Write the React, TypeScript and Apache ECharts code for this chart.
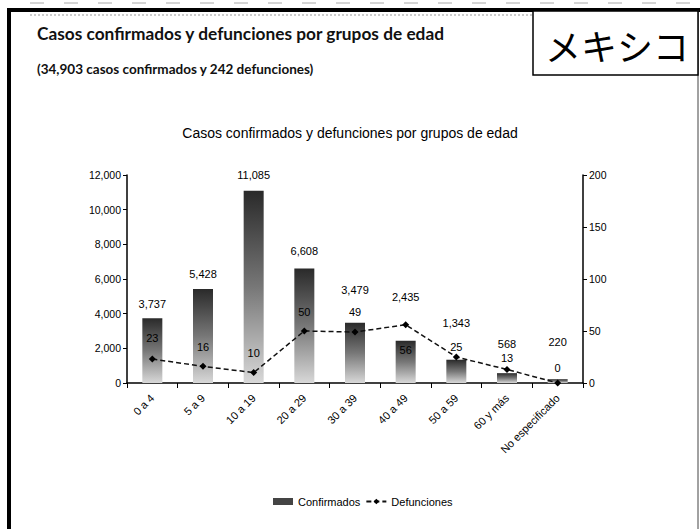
import React, { useEffect, useRef } from "react";
import * as echarts from "echarts";

const categories = ["0 a 4", "5 a 9", "10 a 19", "20 a 29", "30 a 39", "40 a 49", "50 a 59", "60 y más", "No especificado"];
const confirmados = [3737, 5428, 11085, 6608, 3479, 2435, 1343, 568, 220];
const defunciones = [23, 16, 10, 50, 49, 56, 25, 13, 0];

const headerTitle = "Casos confirmados y defunciones por grupos de edad";
const headerSubtitle = "(34,903 casos confirmados y 242 defunciones)";
const countryLabel = "メキシコ";
const chartTitle = "Casos confirmados y defunciones por grupos de edad";
const seriesNames = ["Confirmados", "Defunciones"];

// label placement tweaks (layout, not data)
const barLabelGap = [9, 9, 10, 12, 27, 38, 31, 24, 32];
const lineLabelGap = [12, 10, 11, 10, 11, 16, 1, 2, 6];
const lineLabelPos = ["top", "top", "top", "top", "top", "bottom", "top", "top", "top"];

const FONT = "'Liberation Sans Narrow','Liberation Sans',Arial,sans-serif";
const HFONT = "Lato,'Open Sans',sans-serif";

export default function App() {
  const ref = useRef<HTMLDivElement>(null);
  useEffect(() => {
    document.body.style.margin = "0";
    if (!ref.current) return;
    const chart = echarts.init(ref.current, null, { renderer: "svg" });
    const fmt = (v: number) => v.toLocaleString("en-US");
    const option: any = {
      animation: false,
      backgroundColor: "#fff",
      title: {
        text: chartTitle,
        left: "center",
        top: 121,
        textStyle: { fontFamily: FONT, fontSize: 14, fontWeight: "normal", color: "#000" },
      },
      grid: { left: 127, right: 117, top: 175, bottom: 146 },
      legend: {
        top: 491,
        left: 268,
        itemGap: 5,
        itemWidth: 20,
        itemHeight: 7,
        textStyle: { fontFamily: FONT, fontSize: 11, color: "#000" },
        data: [
          { name: seriesNames[0], icon: "rect", itemStyle: { color: "#444" } },
          { name: seriesNames[1] },
        ],
      },
      xAxis: {
        type: "category",
        data: categories,
        boundaryGap: true,
        axisLine: { lineStyle: { color: "#000", width: 1.5 } },
        axisTick: { show: true, alignWithLabel: false, length: 5, lineStyle: { color: "#000" } },
        axisLabel: { rotate: 45, fontFamily: FONT, fontSize: 11, color: "#000", margin: 13, interval: 0 },
      },
      yAxis: [
        {
          type: "value",
          min: 0,
          max: 12000,
          interval: 2000,
          splitLine: { show: false },
          axisLine: { show: true, lineStyle: { color: "#000", width: 1.5 } },
          axisTick: { show: true, length: 4, lineStyle: { color: "#000" } },
          axisLabel: { fontFamily: FONT, fontSize: 10.5, color: "#000", formatter: (v: number) => fmt(v), margin: 6 },
        },
        {
          type: "value",
          min: 0,
          max: 200,
          interval: 50,
          splitLine: { show: false },
          axisLine: { show: true, lineStyle: { color: "#000", width: 1.5 } },
          axisTick: { show: true, length: 4, inside: false, lineStyle: { color: "#000" } },
          axisLabel: { fontFamily: FONT, fontSize: 10.5, color: "#000", margin: 6 },
        },
      ],
      series: [
        {
          name: seriesNames[0],
          type: "bar",
          barWidth: 20,
          yAxisIndex: 0,
          itemStyle: {
            color: new echarts.graphic.LinearGradient(0, 0, 0, 1, [
              { offset: 0, color: "#2a2a2a" },
              { offset: 0.5, color: "#777" },
              { offset: 1, color: "#d8d8d8" },
            ]),
          },
          label: {
            show: true,
            position: "top",
            fontFamily: FONT,
            fontSize: 11,
            color: "#000",
            formatter: (p: any) => fmt(p.value),
          },
          data: confirmados.map((v, i) => ({ value: v, label: { distance: barLabelGap[i] } })),
          z: 2,
        },
        {
          name: seriesNames[1],
          type: "line",
          yAxisIndex: 1,
          symbol: "diamond",
          symbolSize: 7,
          itemStyle: { color: "#000" },
          lineStyle: { color: "#111", width: 1.5, type: [5, 3] },
          label: { show: true, fontFamily: FONT, fontSize: 11, color: "#000" },
          data: defunciones.map((v, i) => ({
            value: v,
            label: { position: lineLabelPos[i], distance: lineLabelGap[i] },
          })),
          z: 3,
        },
      ],
      graphic: [
        { type: "line", shape: { x1: 30, y1: 3, x2: 700, y2: 3 }, style: { stroke: "#aaa", lineWidth: 1, lineDash: [14, 20] } },
        { type: "line", shape: { x1: 7, y1: 10, x2: 700, y2: 10 }, style: { stroke: "#000", lineWidth: 4 } },
        { type: "line", shape: { x1: 9, y1: 8, x2: 9, y2: 529 }, style: { stroke: "#000", lineWidth: 4 } },
        { type: "line", shape: { x1: 698, y1: 10, x2: 698, y2: 529 }, style: { stroke: "#444", lineWidth: 1 } },
        { type: "line", shape: { x1: 30, y1: 15, x2: 533, y2: 15 }, style: { stroke: "#999", lineWidth: 1, lineDash: [2, 2] } },
        { type: "rect", shape: { x: 533, y: 11, width: 165, height: 64 }, style: { fill: "#fff", stroke: "#000", lineWidth: 1.5 } },
        {
          type: "text",
          x: 617,
          y: 45,
          style: { text: countryLabel, fontFamily: "'Noto Sans CJK JP',sans-serif", fontSize: 36, fill: "#000", align: "center", verticalAlign: "middle" },
        },
        {
          type: "text",
          x: 37,
          y: 33,
          style: { text: headerTitle, fontFamily: HFONT, fontSize: 17.3, fontWeight: "bold", fill: "#111", verticalAlign: "middle" },
        },
        {
          type: "text",
          x: 37,
          y: 69,
          style: { text: headerSubtitle, fontFamily: HFONT, fontSize: 13.5, fontWeight: "bold", fill: "#111", verticalAlign: "middle" },
        },
      ],
    };
    chart.setOption(option);
    return () => chart.dispose();
  }, []);
  return <div ref={ref} style={{ width: 700, height: 529 }} />;
}
